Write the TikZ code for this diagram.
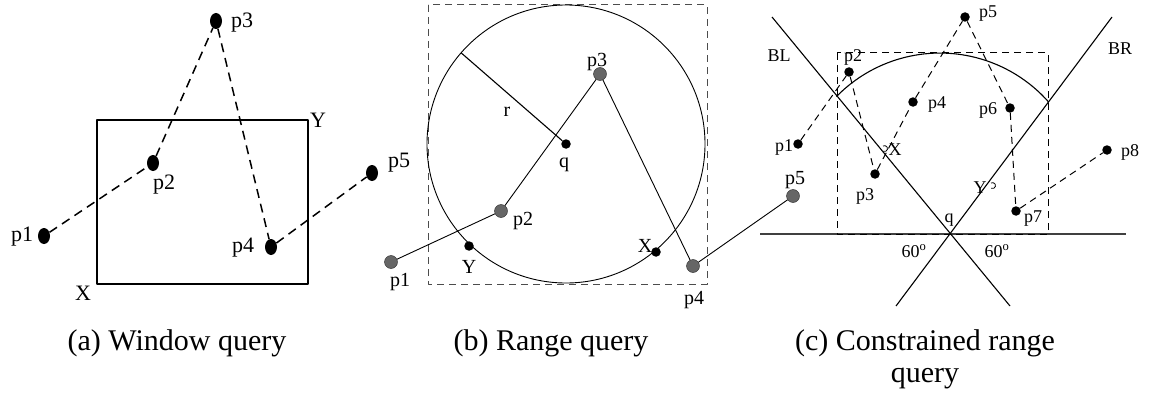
\documentclass[tikz,border=0pt]{standalone}
\usepackage{fontspec}
\setmainfont{Liberation Serif}
\usetikzlibrary{shapes.geometric}
\tikzset{adot/.style={ellipse,fill=black,inner sep=0pt,minimum width=12pt,minimum height=16pt},
  gdot/.style={circle,fill=black!60,draw=black!85,inner sep=0pt,minimum size=13pt},
  sdot/.style={circle,fill=black,inner sep=0pt,minimum size=9.5pt},
  capt/.style={font=\fontsize{30}{32}\selectfont,align=center,inner sep=0pt,anchor=north}}

\begin{document}
\begin{tikzpicture}[x=1pt,y=-1pt,line join=round]
\useasboundingbox (0,0) rectangle (1151,396);
% --- (a) window query
\begin{scope}[font=\fontsize{22}{24}\selectfont]
\draw[line width=2pt] (97,120) rectangle (308,284);
\node[adot] (a1) at (44,236) {}; \node[adot] (a2) at (153,163) {};
\node[adot] (a3) at (216,21) {}; \node[adot] (a4) at (271,247) {};
\node[adot] (a5) at (372,173) {};
\draw[line width=1.5pt,dash pattern=on 9pt off 6pt] (a1) -- (a2) -- (a3) -- (a4) -- (a5);
\node (a1l) at (22,237) {p1}; \node (a2l) at (164,185) {p2};
\node (a3l) at (242,23) {p3}; \node (a4l) at (243,248) {p4};
\node (a5l) at (399,163) {p5};
\node (ax) at (83,293) {X}; \node (ay) at (318,120) {Y};
\end{scope}
% --- (b) range query
\begin{scope}[font=\fontsize{20}{22}\selectfont]
\draw[black!70,line width=1pt,dash pattern=on 7pt off 5pt] (428,5) rectangle (707,284);
\node[sdot] (q) at (566,144) {};
\draw[line width=0.9pt] (566,144) circle (139pt);
\path (566,144) ++(139:139pt) coordinate (rt);
\draw[line width=1.1pt] (q) -- (rt);
\node[gdot] (b1) at (391,262) {}; \node[gdot] (b2) at (501,211) {};
\node[gdot] (b3) at (600,74) {}; \node[gdot] (b4) at (693,266) {};
\node[gdot] (b5) at (793,196) {};
\node[sdot] (bx) at (656,252) {}; \node[sdot] (by) at (469,246) {};
\draw[line width=0.9pt] (b1) -- (b2) -- (b3) -- (b4) -- (b5);
\node (b1l) at (400,282) {p1}; \node (b2l) at (523,221) {p2};
\node (b3l) at (597,62) {p3}; \node (b4l) at (694,300) {p4};
\node (b5l) at (795,180) {p5};
\node (bql) at (564,165) {q}; \node (brl) at (507,112) {r};
\node (bxl) at (645,246) {X}; \node (byl) at (469,267) {Y};
\end{scope}
% --- (c) constrained range query
\begin{scope}[font=\fontsize{18}{20}\selectfont]
\coordinate (blt) at (772,17); \coordinate (blb) at (1010,306);
\coordinate (brt) at (1112,17); \coordinate (brb) at (896,306);
\coordinate (hl) at (760,234); \coordinate (hr) at (1126,234);
\draw[black!75,line width=1.6pt] (hl) -- (hr);
\draw[line width=1.1pt] (blt) -- (blb); \draw[line width=1.1pt] (brt) -- (brb);
\draw[line width=1pt,dash pattern=on 7pt off 5pt] (837,53) rectangle (1048,234);
\draw[line width=1.1pt] (836.4,96.6) arc[start angle=135.6,end angle=41.6,radius=145pt];
\node[sdot] (c1) at (798,144) {}; \node[sdot] (c2) at (849,72) {};
\node[sdot] (c3) at (875,174) {}; \node[sdot] (c4) at (913,102) {};
\node[sdot] (c5) at (965,17) {}; \node[sdot] (c6) at (1010,108) {};
\node[sdot] (c7) at (1016,211) {}; \node[sdot] (c8) at (1107,150) {};
\draw[line width=1pt,dash pattern=on 7pt off 5pt] (c1) -- (c2) -- (c3) -- (c4) -- (c5) -- (c6) -- (c7) -- (c8);
\draw[line width=0.8pt] (883,146) arc[start angle=120,end angle=-120,radius=3pt];
\draw[line width=0.8pt] (991,183) arc[start angle=120,end angle=-120,radius=3pt];
\node (c1l) at (784,147) {p1}; \node (c2l) at (853,57) {p2};
\node (c3l) at (865,196) {p3}; \node (c4l) at (937,104) {p4};
\node (c5l) at (988,14) {p5}; \node (c6l) at (988,110) {p6};
\node (c7l) at (1033,219) {p7}; \node (c8l) at (1130,152) {p8};
\node (cxl) at (895,150) {X}; \node (cyl) at (980,188) {Y};
\node (cql) at (949,220) {q};
\node (cbl) at (779,56) {BL}; \node (cbr) at (1120,49) {BR};
\node (ang1) at (914,251) {60\textsuperscript{o}}; \node (ang2) at (997,251) {60\textsuperscript{o}};
\end{scope}
% --- captions
\node[capt] (capa) at (177,329) {(a) Window query};
\node[capt] (capb) at (551,329) {(b) Range query};
\node[capt] (capc) at (925,329) {(c) Constrained range\\query};
\end{tikzpicture}
\end{document}
